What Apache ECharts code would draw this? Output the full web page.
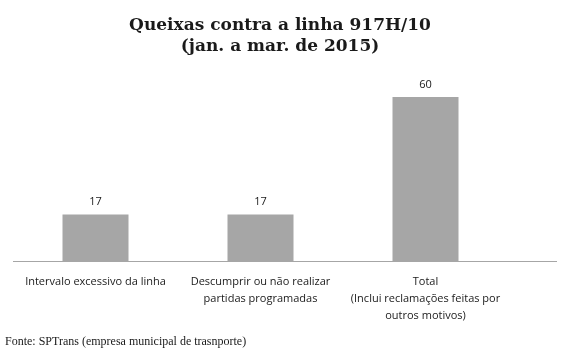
<!DOCTYPE html>
<html>
<head>
<meta charset="utf-8">
<script src="https://cdn.jsdelivr.net/npm/echarts@6/dist/echarts.min.js"></script>
<style>
  html, body { margin: 0; padding: 0; background: #fff; }
  #main { width: 562px; height: 353px; }
</style>
</head>
<body>
<div id="main"></div>
<script>
// categorias e valores
const categories = [
  'Intervalo excessivo da linha',
  'Descumprir ou não realizar\npartidas programadas',
  'Total\n(Inclui reclamações feitas por\noutros motivos)'
]
const values = [17, 17, 60]

const chart = echarts.init(document.getElementById('main'))
chart.setOption({
  animation: false,
  title: {
    text: 'Queixas contra a linha 917H/10\n(jan. a mar. de 2015)',
    left: 275,
    textAlign: 'center',
    top: 10,
    textStyle: {
      fontFamily: 'DejaVu Serif',
      fontWeight: 'bold',
      fontSize: 17,
      lineHeight: 21,
      color: '#1a1a1a'
    }
  },
  grid: { left: 13, top: 97, width: 495, bottom: 92 },
  xAxis: {
    type: 'category',
    data: categories,
    axisLine: { show: false },
    axisTick: { show: false },
    axisLabel: {
      interval: 0,
      margin: 12,
      fontFamily: 'Open Sans',
      fontSize: 11,
      lineHeight: 17,
      color: '#1a1a1a'
    }
  },
  yAxis: {
    type: 'value',
    min: 0,
    max: 60,
    show: false
  },
  series: [{
    type: 'bar',
    data: values,
    barWidth: 66,
    itemStyle: { color: '#a6a6a6' },
    label: {
      show: true,
      position: 'top',
      distance: 7,
      fontFamily: 'Open Sans',
      fontSize: 11,
      color: '#1a1a1a'
    }
  }],
  graphic: [
    {
      type: 'line',
      shape: { x1: 13, y1: 261.5, x2: 557, y2: 261.5 },
      style: { stroke: '#a6a6a6', lineWidth: 1 }
    },
    {
      type: 'text',
      left: 5,
      top: 336,
      style: {
        text: 'Fonte: SPTrans (empresa municipal de trasnporte)',
        fontFamily: 'Liberation Serif',
        fontSize: 12,
        fill: '#1a1a1a'
      }
    }
  ]
})
</script>
</body>
</html>
